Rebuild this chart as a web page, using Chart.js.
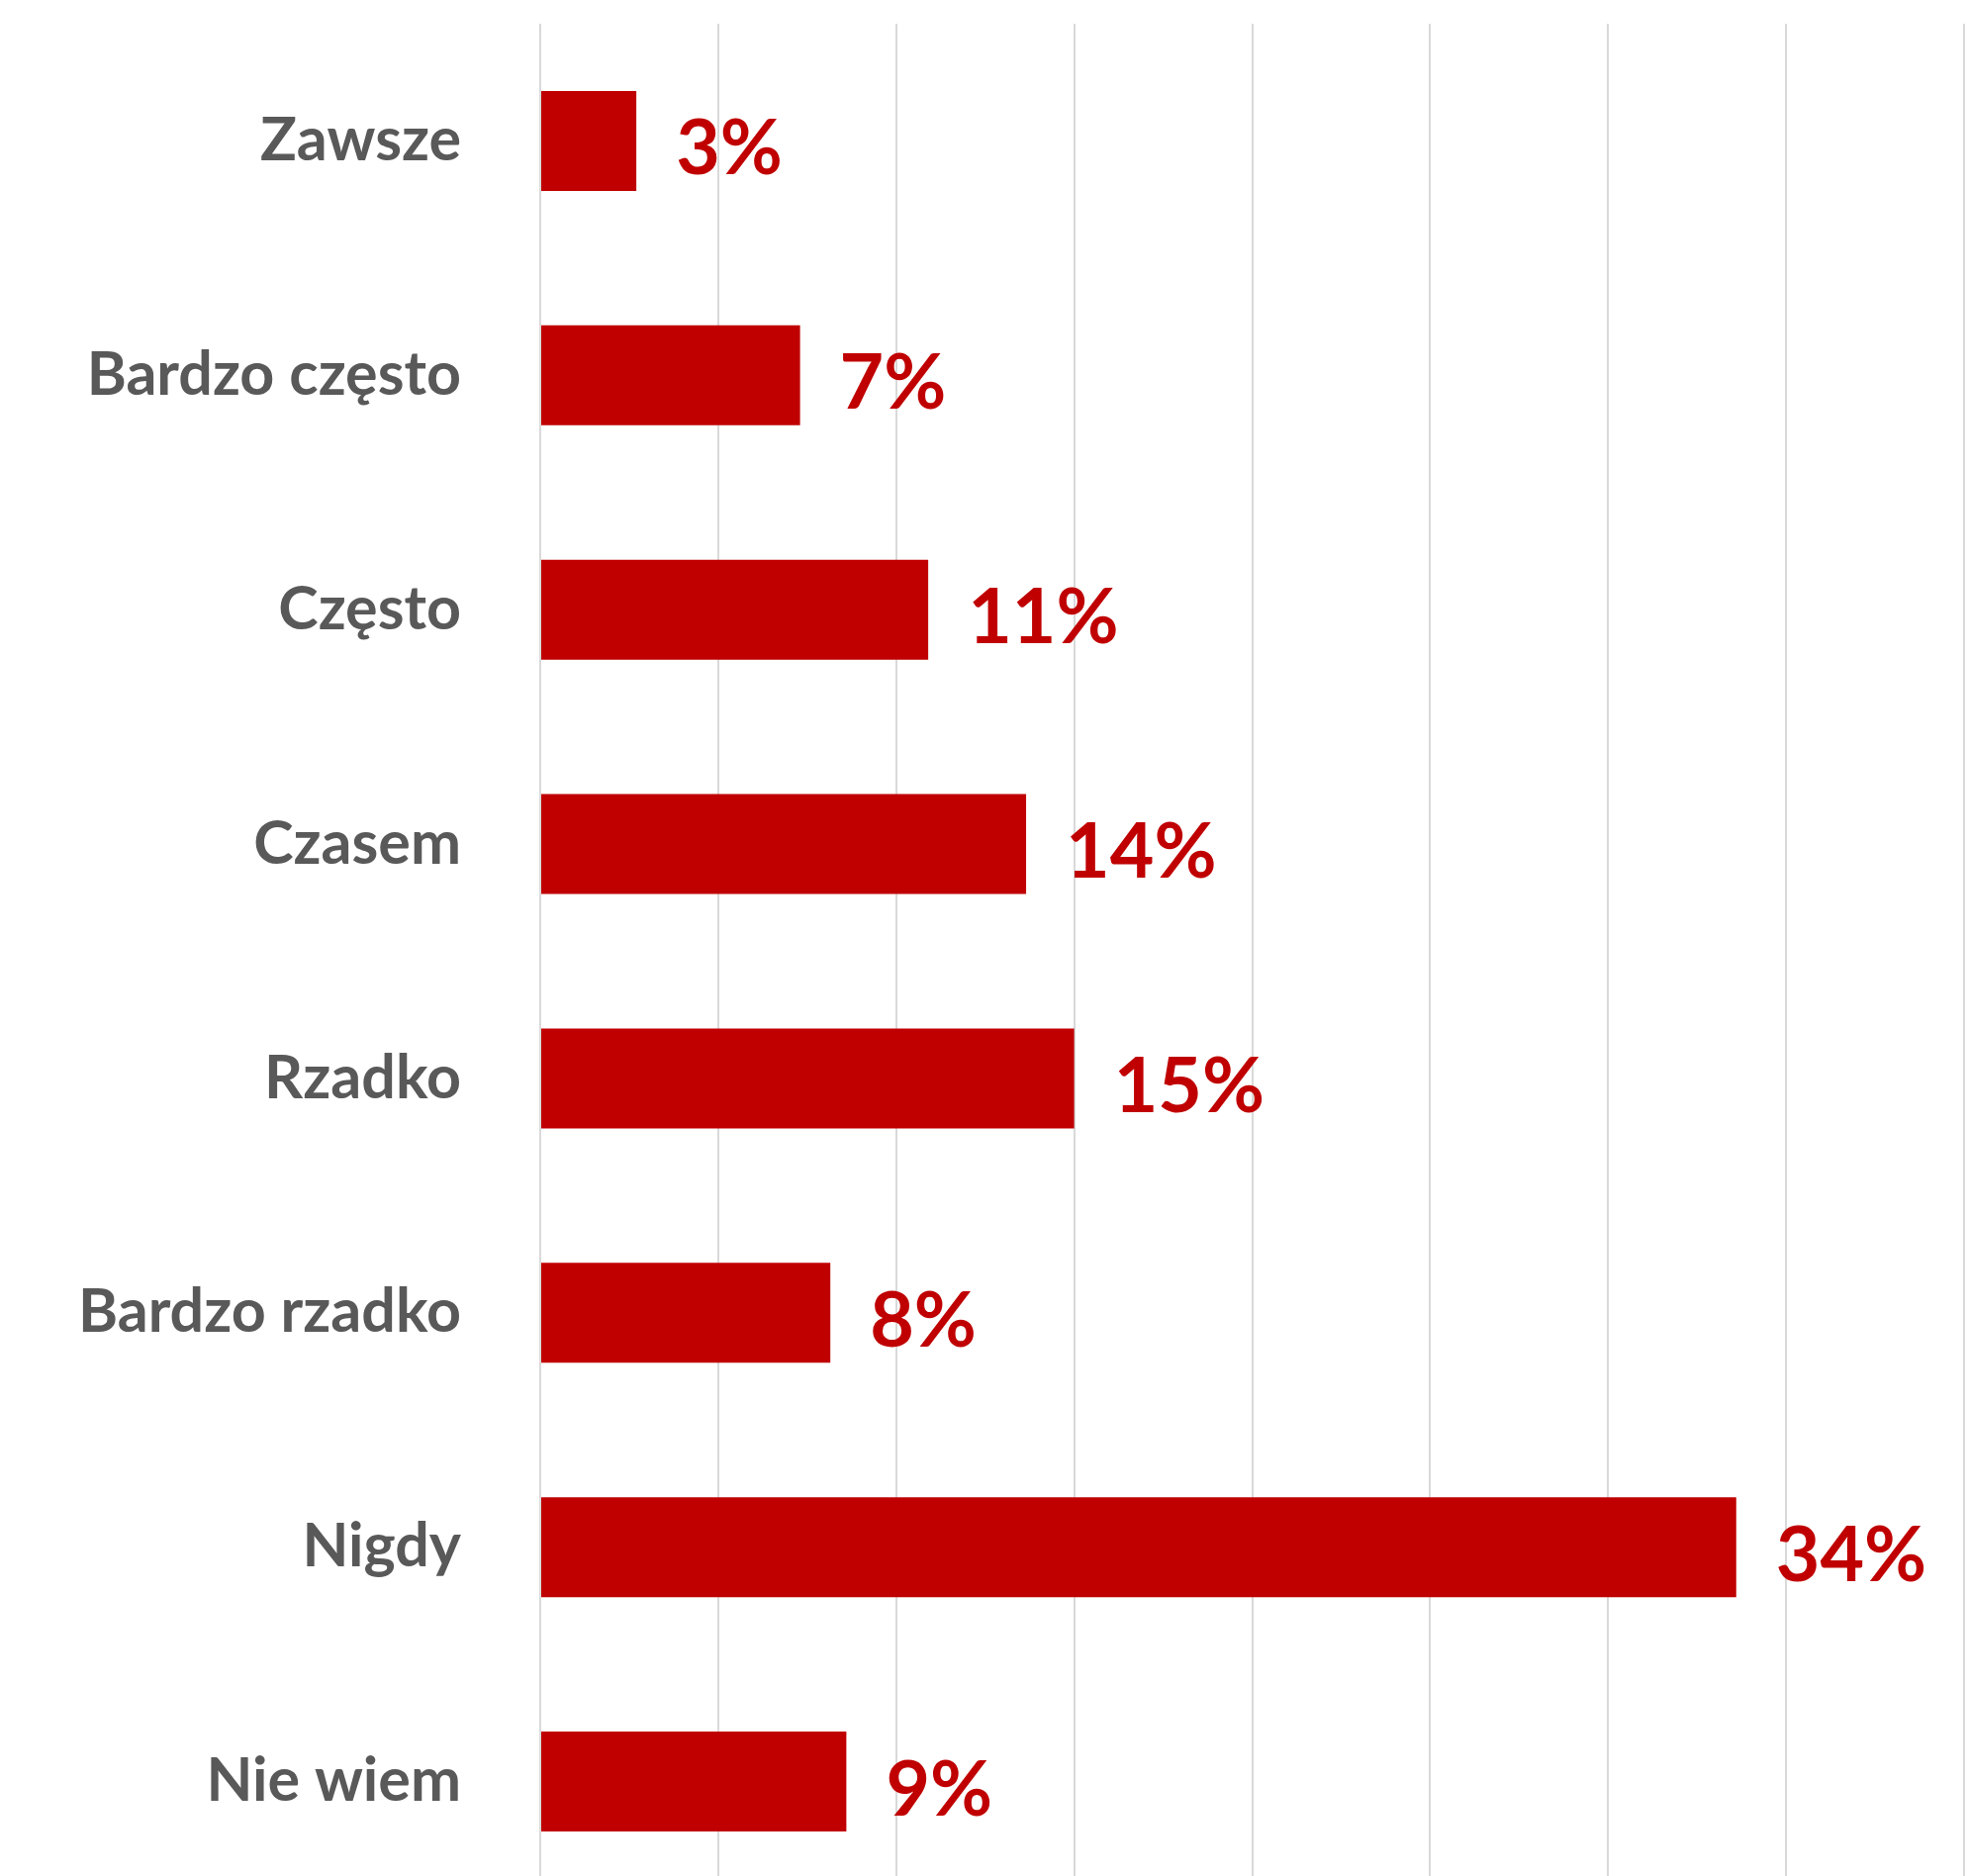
<!DOCTYPE html>
<html lang="pl">
<head>
<meta charset="utf-8">
<title>Wykres</title>
<script src="https://cdn.jsdelivr.net/npm/chart.js@4/dist/chart.umd.min.js"></script>
<style>
    html, body { margin: 0; padding: 0; background: #fff; overflow: hidden; }
    #wrap { width: 1988px; height: 1896px; overflow: hidden; position: relative; }
    #chart { display: block; }
</style>
</head>
<body>
<div id="wrap">
    <canvas id="chart" width="1988" height="1919"></canvas>
</div>
<script>
// Chart data
const categories = ['Zawsze', 'Bardzo często', 'Często', 'Czasem', 'Rzadko', 'Bardzo rzadko', 'Nigdy', 'Nie wiem'];
const shares = [2.7, 7.3, 10.9, 13.65, 15.0, 8.15, 33.6, 8.6];
const axisTicks = [0, 5, 10, 15, 20, 25, 30, 35, 40];

const RED = '#C00000';
const GREY_TEXT = '#595959';
const GRID = '#d9d9d9';

// Draws the percentage next to each bar
const valueLabels = {
    id: 'valueLabels',
    afterDatasetsDraw(chart) {
        const ctx = chart.ctx;
        const meta = chart.getDatasetMeta(0);
        ctx.save();
        ctx.fillStyle = RED;
        ctx.font = 'bold 77px Lato';
        ctx.textAlign = 'left';
        ctx.textBaseline = 'alphabetic';
        meta.data.forEach((bar, i) => {
            const text = Math.round(shares[i]) + '%';
            ctx.fillText(text, bar.x + 40, bar.y + 34);
        });
        ctx.restore();
    }
};

new Chart(document.getElementById('chart'), {
    type: 'bar',
    data: {
        labels: categories,
        datasets: [{
            data: shares,
            backgroundColor: RED,
            borderWidth: 0,
            barPercentage: 1,
            categoryPercentage: 0.4265
        }]
    },
    options: {
        indexAxis: 'y',
        responsive: false,
        animation: false,
        devicePixelRatio: 1,
        layout: { padding: { top: 24, right: 3, bottom: 0, left: 0 } },
        plugins: {
            legend: { display: false },
            tooltip: { enabled: false }
        },
        scales: {
            x: {
                min: axisTicks[0],
                max: axisTicks[axisTicks.length - 1],
                afterBuildTicks(scale) {
                    scale.ticks = axisTicks.map(v => ({ value: v }));
                },
                afterFit(scale) {
                    scale.height = 0;
                    scale.paddingLeft = 0;
                    scale.paddingRight = 0;
                },
                ticks: { display: false },
                grid: { color: GRID, lineWidth: 2, drawTicks: false, tickLength: 0 },
                border: { display: false }
            },
            y: {
                afterFit(scale) {
                    scale.width = 546;
                    scale.paddingTop = 0;
                    scale.paddingBottom = 0;
                },
                ticks: {
                    color: GREY_TEXT,
                    padding: 80,
                    font: { family: 'Lato', size: 61, weight: 'bold' }
                },
                grid: { display: false, drawTicks: false, tickLength: 0 },
                border: { display: false }
            }
        }
    },
    plugins: [valueLabels]
});
</script>
</body>
</html>
